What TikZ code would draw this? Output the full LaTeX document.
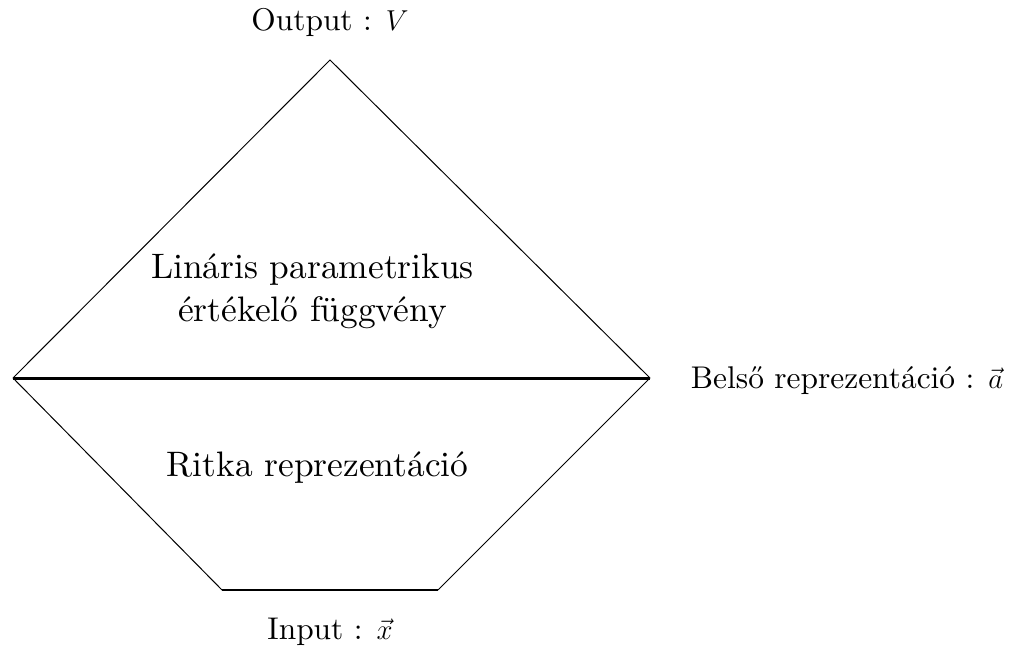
\documentclass[tikz,border=0pt]{standalone}
\usepackage{fontspec}
\setmainfont{lmroman10-regular.otf}[ItalicFont=lmroman10-italic.otf]
\begin{document}
\begin{tikzpicture}[x=0.5pt,y=-0.5pt,
  thinline/.style={line width=0.5pt},
  small/.style={font=\fontsize{15.7}{19}\selectfont},
  big/.style={font=\fontsize{17.7}{21.5}\selectfont, align=center}]
\useasboundingbox (0,0) rectangle (1027,652);
\coordinate (top) at (330,60);
\coordinate (L) at (13,378);
\coordinate (R) at (650,378);
\coordinate (BL) at (222,590);
\coordinate (BR) at (438,590);
\draw[thinline] (L) -- (top) -- (R);
\draw[thinline] (L) -- (BL);
\draw[thinline] (R) -- (BR);
\draw[line width=1.5pt] (L) -- (R);
\draw[line width=1pt] (BL) -- (BR);
\node[small] (out) at (330,22) {Output : $V$};
\node[big] (lin) at (312.5,291) {Lináris parametrikus\\értékelő függvény};
\node[big] (ritka) at (317.5,468) {Ritka reprezentáció};
\node[small] (belso) at (847,381) {Belső reprezentáció : $\vec a$};
\node[small] (inp) at (330,632) {Input : $\vec x$};
\end{tikzpicture}
\end{document}
